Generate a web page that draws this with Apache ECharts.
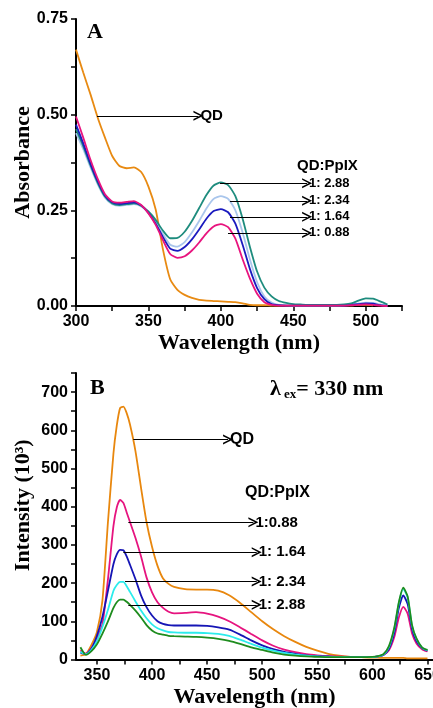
<!DOCTYPE html>
<html>
<head>
<meta charset="utf-8">
<script src="https://cdn.jsdelivr.net/npm/echarts@6/dist/echarts.min.js"></script>
<style>
  html, body { margin: 0; padding: 0; background: #fff; }
  #chart { width: 433px; height: 708px; }
</style>
</head>
<body>
<div id="chart"></div>
<script>
// ---- panel A: absorbance ----
const wlA = [300, 305, 310, 315, 320, 325, 330, 335, 340, 345, 350, 355, 360, 365, 370, 375, 380, 385, 390, 395,
  400, 405, 410, 415, 420, 425, 430, 435, 440, 445, 450, 455, 460, 465, 470, 475, 480, 485, 490, 495, 500, 505, 510, 515];
const absQD = [0.670, 0.610, 0.553, 0.492, 0.440, 0.392, 0.366, 0.360, 0.362, 0.350, 0.312, 0.252, 0.148, 0.070, 0.042, 0.029, 0.021, 0.016, 0.014, 0.013,
  0.012, 0.011, 0.010, 0.007, 0.003, 0.002, 0.002, 0.001, 0.001, 0.001, 0.001, 0.001, 0.001, 0.001, 0.001, 0.001, 0.001, 0.002, 0.002, 0.003, 0.003, 0.002];
const abs088 = [0.495, 0.440, 0.382, 0.332, 0.292, 0.273, 0.270, 0.272, 0.274, 0.264, 0.242, 0.212, 0.172, 0.136, 0.126, 0.130, 0.145, 0.166, 0.190, 0.208,
  0.214, 0.206, 0.176, 0.122, 0.072, 0.032, 0.010, 0.003, 0.001, 0.001, 0.001, 0.001, 0.001, 0.001, 0.001, 0.001, 0.001, 0.001, 0.002, 0.003, 0.004, 0.003, 0.001, 0.000];
const abs164 = [0.474, 0.425, 0.372, 0.326, 0.289, 0.271, 0.267, 0.269, 0.271, 0.263, 0.243, 0.215, 0.180, 0.150, 0.144, 0.154, 0.174, 0.200, 0.228, 0.248,
  0.253, 0.245, 0.215, 0.160, 0.097, 0.047, 0.018, 0.005, 0.002, 0.001, 0.001, 0.001, 0.001, 0.001, 0.001, 0.001, 0.001, 0.001, 0.003, 0.005, 0.007, 0.006, 0.002, 0.000];
const abs234 = [0.452, 0.410, 0.362, 0.318, 0.283, 0.266, 0.262, 0.264, 0.266, 0.260, 0.244, 0.219, 0.188, 0.160, 0.155, 0.167, 0.192, 0.222, 0.255, 0.280,
  0.287, 0.280, 0.250, 0.192, 0.122, 0.062, 0.025, 0.009, 0.003, 0.002, 0.001, 0.001, 0.001, 0.001, 0.001, 0.001, 0.001, 0.002, 0.004, 0.007, 0.009, 0.008, 0.004, 0.001];
const abs288 = [0.462, 0.418, 0.368, 0.322, 0.286, 0.268, 0.264, 0.266, 0.268, 0.262, 0.247, 0.225, 0.197, 0.177, 0.178, 0.194, 0.222, 0.256, 0.290, 0.315,
  0.323, 0.316, 0.287, 0.228, 0.155, 0.090, 0.048, 0.025, 0.013, 0.008, 0.005, 0.004, 0.003, 0.003, 0.003, 0.003, 0.003, 0.004, 0.007, 0.014, 0.020, 0.019, 0.012, 0.004];

// ---- panel B: emission ----
const wlB = [335, 340, 345, 350, 355, 360, 365, 368, 371, 374, 377, 380, 385, 390, 395, 400, 405, 410, 415, 420,
  430, 440, 450, 460, 470, 480, 490, 500, 510, 520, 530, 540, 550, 560, 570, 580, 590, 600,
  605, 610, 615, 620, 624, 628, 632, 636, 640, 645, 650];
const emQD = [10, 14, 38, 72, 155, 360, 540, 612, 658, 662, 645, 615, 545, 450, 360, 295, 245, 212, 198, 190,
  184, 183, 183, 180, 168, 148, 124, 100, 79, 61, 46, 33, 23, 15, 10, 7, 6, 5,
  5, 4, 4, 4, 4, 4, 3, 3, 3, 3, 3];
const em088 = [24, 15, 30, 56, 92, 210, 350, 398, 418, 410, 385, 360, 318, 270, 215, 176, 150, 135, 125, 121,
  122, 124, 120, 112, 100, 84, 67, 50, 36, 26, 19, 14, 11, 9, 8, 7, 6, 6,
  8, 12, 24, 60, 110, 138, 120, 68, 42, 27, 21];
const em164 = [18, 14, 28, 62, 112, 180, 250, 275, 287, 286, 270, 248, 210, 168, 137, 115, 100, 93, 90, 89,
  89, 89, 88, 84, 78, 65, 50, 37, 27, 20, 15, 11, 9, 8, 7, 7, 6, 6,
  8, 12, 28, 72, 135, 168, 145, 80, 48, 30, 23];
const em234 = [20, 14, 25, 48, 85, 130, 180, 195, 203, 203, 192, 177, 152, 128, 108, 92, 82, 76, 72, 71,
  70, 70, 69, 67, 62, 52, 41, 31, 23, 17, 13, 10, 8, 7, 7, 6, 6, 6,
  8, 13, 32, 82, 148, 185, 162, 88, 54, 31, 24];
const em288 = [32, 12, 22, 40, 68, 100, 135, 150, 157, 157, 151, 143, 128, 110, 90, 76, 68, 65, 62, 61,
  60, 59, 57, 54, 49, 41, 32, 25, 18, 13, 10, 8, 7, 6, 6, 6, 6, 7,
  9, 14, 35, 85, 150, 188, 165, 90, 55, 32, 25];

const xTicksB = [350, 375, 400, 425, 450, 475, 500, 525, 550, 575, 600, 625, 650];
const xLabelsB = [350, 400, 450, 500, 550, 600, 650];

const pairs = (xs, ys) => ys.map((y, i) => [xs[i], y]);

const serif = '"Liberation Serif", "Times New Roman", serif';
const sans = '"Liberation Sans", Arial, sans-serif';
const chevron = 'path://M0,10 L5,0 L10,10 L8.3,10 L5,3.4 L1.7,10 Z';

function arrow(from, to, text) {
  return [
    { coord: from, symbol: 'none' },
    { coord: to, symbol: chevron, label: { formatter: text } }
  ];
}

function marks(list, size) {
  return {
    silent: true,
    symbol: ['none', chevron],
    symbolSize: 10,
    lineStyle: { color: '#000', width: 1.2, type: 'solid' },
    label: { show: true, position: 'end', distance: 2, color: '#000', fontFamily: sans, fontWeight: 'bold', fontSize: size },
    emphasis: { disabled: true },
    data: list
  };
}

const axisLine = { show: true, onZero: false, lineStyle: { color: '#000', width: 2 } };
const tickLabel = { color: '#000', fontFamily: sans, fontWeight: 'bold', fontSize: 16 };
const nameStyle = { color: '#000', fontFamily: serif, fontWeight: 'bold', fontSize: 22 };

function line(x, y, data, color, idx, extra) {
  return Object.assign({
    type: 'line', xAxisIndex: idx, yAxisIndex: idx,
    data: pairs(x, data), showSymbol: false, smooth: 0.2,
    lineStyle: { color: color, width: 1.8 }, itemStyle: { color: color }
  }, extra || {});
}

const option = {
  animation: false,
  backgroundColor: '#fff',
  grid: [
    { left: 76, top: 19, width: 326, height: 287, outerBoundsMode: 'none', containLabel: false },
    { left: 76, top: 373, width: 357, height: 286.5, outerBoundsMode: 'none', containLabel: false }
  ],
  xAxis: [
    {
      gridIndex: 0, type: 'value', min: 300, max: 525, interval: 25,
      axisLine: axisLine, splitLine: { show: false },
      axisTick: { length: 5, lineStyle: { color: '#000', width: 1.5 } },
      axisLabel: Object.assign({ margin: 8, formatter: v => (v % 50 === 0 && v < 525) ? String(v) : '' }, tickLabel),
      name: 'Wavelength (nm)', nameLocation: 'middle', nameGap: 26, nameMoveOverlap: false, nameTextStyle: nameStyle
    },
    {
      gridIndex: 1, type: 'value', min: 331, max: 655,
      axisLine: axisLine, splitLine: { show: false },
      axisTick: { length: 5, customValues: xTicksB, lineStyle: { color: '#000', width: 1.5 } },
      axisLabel: Object.assign({ margin: 8, customValues: xLabelsB }, tickLabel),
      name: 'Wavelength (nm)', nameLocation: 'middle', nameGap: 27, nameMoveOverlap: false, nameTextStyle: nameStyle
    }
  ],
  yAxis: [
    {
      gridIndex: 0, type: 'value', min: 0, max: 0.75, interval: 0.125,
      axisLine: axisLine, splitLine: { show: false },
      axisTick: { show: true, length: 5, lineStyle: { color: '#000', width: 1.5 } },
      axisLabel: Object.assign({ margin: 8, formatter: v => Math.abs(v * 4 - Math.round(v * 4)) < 1e-6 ? v.toFixed(2) : '' }, tickLabel),
      name: 'Absorbance', nameLocation: 'middle', nameGap: 42, nameMoveOverlap: false, nameTextStyle: nameStyle
    },
    {
      gridIndex: 1, type: 'value', min: 0, max: 750, interval: 50,
      axisLine: axisLine, splitLine: { show: false },
      axisTick: { show: true, length: 5, lineStyle: { color: '#000', width: 1.5 } },
      axisLabel: Object.assign({ margin: 8, formatter: v => (v % 100 === 0 && v <= 700) ? String(v) : '' }, tickLabel),
      name: 'Intensity (10³)', nameLocation: 'middle', nameGap: 42, nameMoveOverlap: false,
      nameTextStyle: Object.assign({ padding: [0, 0, 0, 22] }, nameStyle)
    }
  ],
  series: [
    line(wlA, null, absQD, '#E88A12', 0, {
      markLine: marks([arrow([314.5, 0.497], [384.5, 0.497], 'QD')], 15)
    }),
    line(wlA, null, abs234, '#A9C6EC', 0),
    line(wlA, null, abs288, '#1E8C7E', 0),
    line(wlA, null, abs164, '#1A1ABF', 0),
    line(wlA, null, abs088, '#E8147E', 0, {
      markLine: marks([
        arrow([399.4, 0.321], [459.5, 0.321], '1: 2.88'),
        arrow([406.3, 0.275], [459.5, 0.275], '1: 2.34'),
        arrow([406.3, 0.233], [459.5, 0.233], '1: 1.64'),
        arrow([404.9, 0.191], [459.5, 0.191], '1: 0.88')
      ], 13)
    }),

    line(wlB, null, emQD, '#E8870E', 1, {
      markLine: marks([arrow([383, 576], [469, 576], 'QD')], 16)
    }),
    line(wlB, null, em088, '#E6147F', 1),
    line(wlB, null, em164, '#1515B5', 1),
    line(wlB, null, em234, '#2CECEC', 1),
    line(wlB, null, em288, '#1E8C1E', 1, {
      markLine: marks([
        arrow([378.5, 359], [492, 359], '1:0.88'),
        arrow([374, 281], [495, 281], '1: 1.64'),
        arrow([375.5, 204], [495, 204], '1: 2.34'),
        arrow([378.5, 143], [495, 143], '1: 2.88')
      ], 15)
    })
  ],
  graphic: [
    { type: 'text', left: 87, top: 21, style: { text: 'A', font: 'bold 22px ' + serif, fill: '#000' } },
    { type: 'text', left: 90, top: 377, style: { text: 'B', font: 'bold 22px ' + serif, fill: '#000' } },
    { type: 'text', left: 297, top: 158, style: { text: 'QD:PpIX', font: 'bold 15px ' + sans, fill: '#000' } },
    { type: 'text', left: 245, top: 485, style: { text: 'QD:PpIX', font: 'bold 16px ' + sans, fill: '#000' } },
    {
      type: 'text', left: 270, top: 378,
      style: {
        text: '{a|λ}{s| ex}{a|= 330 nm}',
        fill: '#000',
        rich: {
          a: { fontFamily: serif, fontWeight: 'bold', fontSize: 22, lineHeight: 26, fill: '#000' },
          s: { fontFamily: serif, fontWeight: 'bold', fontSize: 13, lineHeight: 26, padding: [10, 0, 0, 0], fill: '#000' }
        }
      }
    }
  ]
};

const chart = echarts.init(document.getElementById('chart'));
chart.setOption(option);
</script>
</body>
</html>
